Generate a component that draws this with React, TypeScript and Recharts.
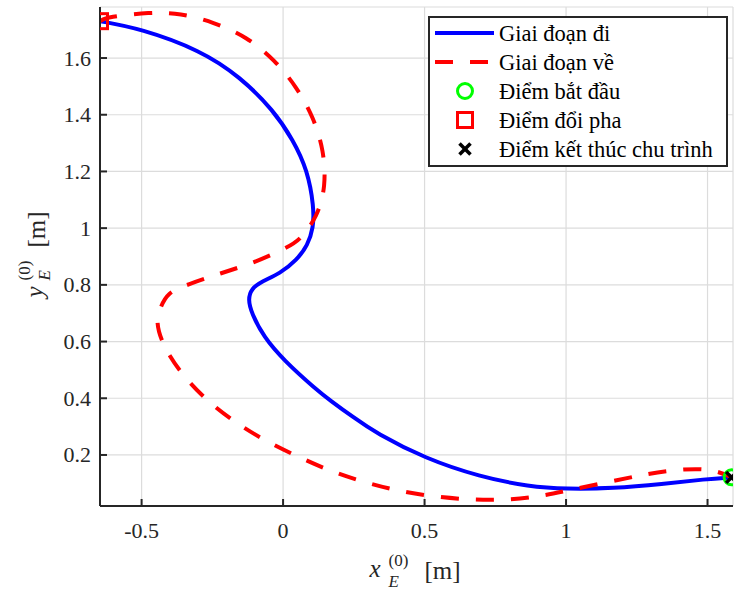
import React from 'react';
import { ComposedChart, Line, Scatter, XAxis, YAxis, CartesianGrid, Legend } from 'recharts';

document.body.style.margin = '0';

// Giai đoạn đi (outbound phase), from start point to phase switch
const goX = [1.585, 1.494, 1.341, 1.165, 1.0, 0.871, 0.695, 0.501, 0.33, 0.245, 0.166, 0.119, 0.001, -0.069, -0.111, -0.124, -0.112, -0.075, -0.011, 0.048, 0.087, 0.107, 0.109, 0.086, 0.036, -0.034, -0.152, -0.293, -0.504, -0.647];
const goY = [0.121, 0.115, 0.097, 0.082, 0.08, 0.088, 0.123, 0.188, 0.276, 0.335, 0.393, 0.429, 0.535, 0.617, 0.699, 0.748, 0.787, 0.812, 0.84, 0.887, 0.94, 1.0, 1.075, 1.205, 1.31, 1.416, 1.534, 1.628, 1.704, 1.73];

// Giai đoạn về (return phase), from phase switch back to end point
const backX = [-0.647, -0.622, -0.469, -0.363, -0.246, -0.128, -0.028, 0.048, 0.107, 0.144, 0.151, 0.121, 0.06, 0.015, -0.099, -0.223, -0.338, -0.41, -0.434, -0.45, -0.428, -0.361, -0.272, -0.173, -0.067, 0.048, 0.164, 0.283, 0.401, 0.53, 0.66, 0.789, 0.907, 1.012, 1.153, 1.283, 1.412, 1.518, 1.585];
const backY = [1.73, 1.745, 1.762, 1.758, 1.727, 1.675, 1.592, 1.498, 1.392, 1.275, 1.146, 1.04, 0.958, 0.932, 0.879, 0.84, 0.801, 0.772, 0.717, 0.676, 0.59, 0.487, 0.393, 0.317, 0.252, 0.196, 0.144, 0.105, 0.074, 0.053, 0.042, 0.041, 0.053, 0.076, 0.105, 0.133, 0.151, 0.151, 0.121];

const startPoint = [{ x: 1.585, y: 0.121 }];
const switchPoint = [{ x: -0.647, y: 1.73 }];
const endPoint = [{ x: 1.585, y: 0.121 }];

const xTicks = [-0.5, 0, 0.5, 1, 1.5];
const yTicks = [0.2, 0.4, 0.6, 0.8, 1, 1.2, 1.4, 1.6];
const legendNames = ['Giai đoạn đi', 'Giai đoạn về', 'Điểm bắt đầu', 'Điểm đổi pha', 'Điểm kết thúc chu trình'];

const goData = goX.map((x, i) => ({ x, y: goY[i] }));
const backData = backX.map((x, i) => ({ x, y: backY[i] }));

const INK = '#262626';
const serif = { fontFamily: "'Liberation Serif', 'DejaVu Serif', serif" };

const BottomTick = (props: any) => {
  const { x, y, payload } = props;
  return (
    <g>
      <line x1={x} x2={x} y1={y} y2={y - 7} stroke={INK} strokeWidth={2} />
      <text x={x} y={y + 32} textAnchor="middle" style={serif} fontSize={22} fill={INK}>
        {String(payload.value)}
      </text>
    </g>
  );
};

const TopTick = (props: any) => {
  const { x, y } = props;
  return <line x1={x} x2={x} y1={y} y2={y + 7} stroke={INK} strokeWidth={2} />;
};

const LeftTick = (props: any) => {
  const { x, y, payload } = props;
  return (
    <g>
      <line x1={x} x2={x + 7} y1={y} y2={y} stroke={INK} strokeWidth={2} />
      <text x={x - 9} y={y + 7.5} textAnchor="end" style={serif} fontSize={22} fill={INK}>
        {String(payload.value)}
      </text>
    </g>
  );
};

const RightTick = (props: any) => {
  const { x, y } = props;
  return <line x1={x} x2={x - 7} y1={y} y2={y} stroke={INK} strokeWidth={2} />;
};

const XLabel = (props: any) => {
  const vb = props.viewBox || { x: 100, y: 506, width: 633 };
  const cx = vb.x + vb.width / 2;
  const by = vb.y;
  return (
    <g style={serif} fill={INK}>
      <text x={cx - 47} y={by + 71} fontSize={25} fontStyle="italic">x</text>
      <text x={cx - 28} y={by + 60} fontSize={17}>(0)</text>
      <text x={cx - 28} y={by + 81} fontSize={17} fontStyle="italic">E</text>
      <text x={cx + 8} y={by + 73} fontSize={25}>[m]</text>
    </g>
  );
};

const YLabel = (props: any) => {
  const vb = props.viewBox || { x: 0, y: 7, height: 499 };
  const cy = vb.y + vb.height / 2;
  return (
    <g transform={`translate(${vb.x + 43}, ${cy}) rotate(-90)`} style={serif} fill={INK}>
      <text x={-41} y={0} fontSize={25} fontStyle="italic">y</text>
      <text x={-24} y={-13} fontSize={17}>(0)</text>
      <text x={-24} y={7} fontSize={17} fontStyle="italic">E</text>
      <text x={9} y={2} fontSize={25}>[m]</text>
    </g>
  );
};

const Circle = (p: any) => <circle cx={p.cx} cy={p.cy} r={7.5} fill="none" stroke="#00ff00" strokeWidth={3} />;
const Square = (p: any) => <rect x={p.cx - 7.5} y={p.cy - 7.5} width={15} height={15} fill="none" stroke="#ff0000" strokeWidth={3} />;
const Cross = (p: any) => (
  <g stroke="#000" strokeWidth={3.5}>
    <line x1={p.cx - 5.5} y1={p.cy - 5.5} x2={p.cx + 5.5} y2={p.cy + 5.5} />
    <line x1={p.cx - 5.5} y1={p.cy + 5.5} x2={p.cx + 5.5} y2={p.cy - 5.5} />
  </g>
);

const LegendBox = () => {
  const rowY = (i: number) => 17 + i * 29;
  return (
    <svg width={300} height={151} style={{ display: 'block' }}>
      <rect x={1} y={1} width={298} height={149} fill="#fff" stroke={INK} strokeWidth={2} />
      <line x1={7} x2={66} y1={rowY(0)} y2={rowY(0)} stroke="#0000ff" strokeWidth={4} />
      <line x1={7} x2={66} y1={rowY(1)} y2={rowY(1)} stroke="#ff0000" strokeWidth={4} strokeDasharray="18 17" />
      <Circle cx={37} cy={rowY(2)} />
      <Square cx={37} cy={rowY(3)} />
      <Cross cx={37} cy={rowY(4)} />
      {legendNames.map((name, i) => (
        <text key={name} x={71} y={rowY(i) + 8} style={serif} fontSize={22.5} fill="#000">
          {name}
        </text>
      ))}
    </svg>
  );
};

export default function App() {
  return (
    <ComposedChart width={736} height={590} margin={{ top: 7, right: 3, bottom: 0, left: 0 }} style={{ background: '#fff' }}>
      <CartesianGrid stroke="#dcdcdc" strokeWidth={1.2} />
      <XAxis dataKey="x" type="number" domain={[-0.647, 1.59]} allowDataOverflow ticks={xTicks} interval={0} height={84} tickSize={0} tickMargin={0} tickLine={false} tick={<BottomTick />} axisLine={{ stroke: INK, strokeWidth: 2 }} label={<XLabel />} />
      <XAxis xAxisId="top" orientation="top" dataKey="x" type="number" domain={[-0.647, 1.59]} allowDataOverflow ticks={xTicks} interval={0} height={0} tickSize={0} tickMargin={0} tickLine={false} tick={<TopTick />} axisLine={{ stroke: INK, strokeWidth: 2 }} />
      <YAxis dataKey="y" type="number" domain={[0.02, 1.78]} allowDataOverflow ticks={yTicks} interval={0} width={100} tickSize={0} tickMargin={0} tickLine={false} tick={<LeftTick />} axisLine={{ stroke: INK, strokeWidth: 2 }} label={<YLabel />} />
      <YAxis yAxisId="right" orientation="right" dataKey="y" type="number" domain={[0.02, 1.78]} allowDataOverflow ticks={yTicks} interval={0} width={0} tickSize={0} tickMargin={0} tickLine={false} tick={<RightTick />} axisLine={{ stroke: INK, strokeWidth: 2 }} />
      <Legend layout="vertical" align="center" verticalAlign="middle" content={<LegendBox />} wrapperStyle={{ left: 428, top: 16, width: 300, height: 151 }} />
      <Line data={goData} dataKey="y" type="basis" stroke="#0000ff" strokeWidth={4} dot={false} activeDot={false} isAnimationActive={false} />
      <Line data={backData} dataKey="y" type="basis" stroke="#ff0000" strokeWidth={4} strokeDasharray="18 17" dot={false} activeDot={false} isAnimationActive={false} />
      <Scatter data={startPoint} dataKey="y" shape={<Circle />} isAnimationActive={false} />
      <Scatter data={switchPoint} dataKey="y" shape={<Square />} isAnimationActive={false} />
      <Scatter data={endPoint} dataKey="y" shape={<Cross />} isAnimationActive={false} />
    </ComposedChart>
  );
}
